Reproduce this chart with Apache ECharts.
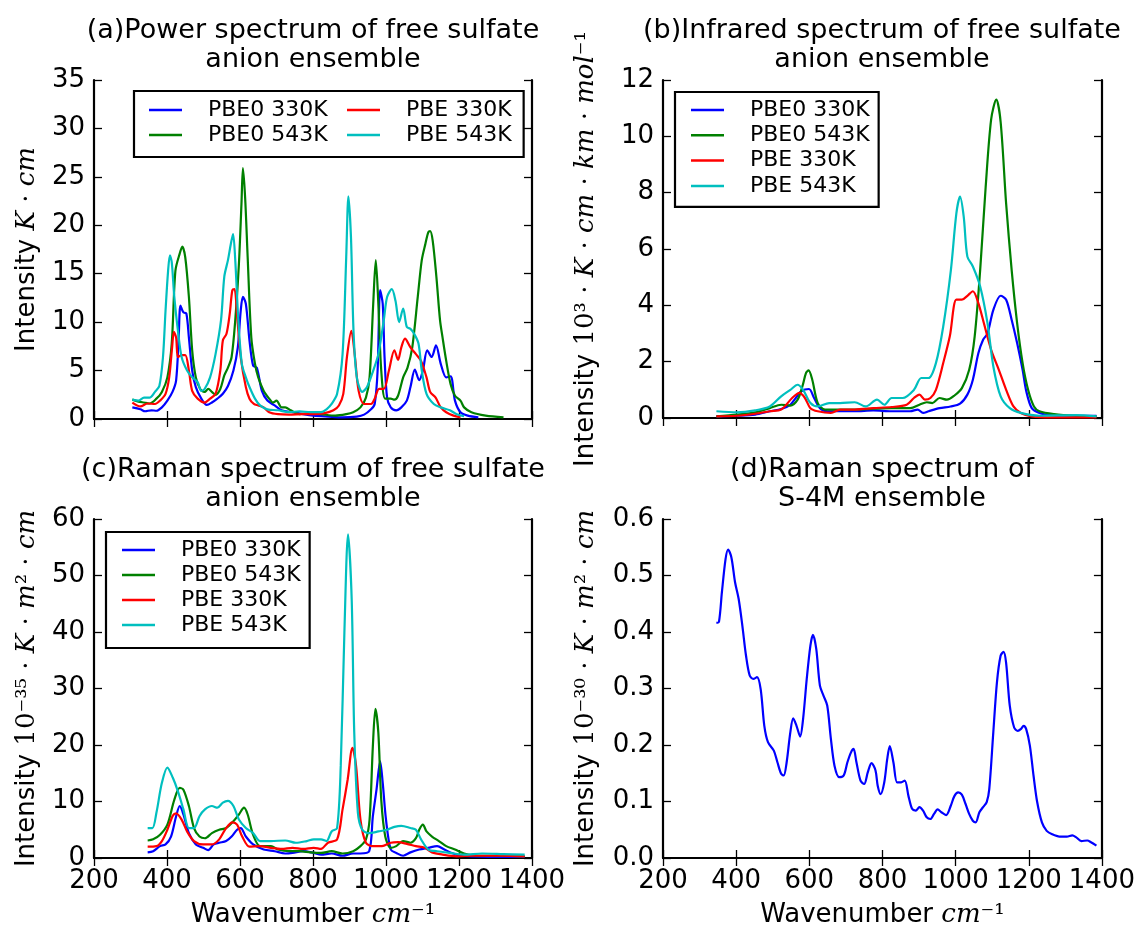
<!DOCTYPE html>
<html>
<head>
<meta charset="utf-8">
<title>Sulfate anion spectra</title>
<script src="https://cdn.jsdelivr.net/npm/echarts@6/dist/echarts.min.js"></script>
<style>
  body { margin: 0; background: #fff; }
  #chart { width: 1138px; height: 929px; }
</style>
</head>
<body>
<div id="chart"></div>
<script>
// Spectra, each point is [wavenumber, intensity]

// (a) power spectrum
const a_pbe0_330 = [[305,1.2],[327,1.0],[340,0.8],[357,0.9],[371,0.85],[386,1.2],[401,1.9],[415,2.8],[425,4.0],[432,8.4],[437,11.7],[445,11.0],[453,10.9],[460,8.4],[469,5.0],[479,3.3],[494,2.1],[509,1.45],[523,1.7],[538,2.1],[553,2.6],[567,3.4],[582,5.0],[594,7.4],[602,11.2],[608,12.6],[616,11.9],[626,8.1],[636,5.5],[646,5.3],[660,2.9],[675,1.9],[695,1.4],[714,0.9],[744,0.7],[773,0.5],[802,0.35],[842,0.25],[881,0.17],[920,0.25],[940,0.45],[959,1.0],[969,1.55],[977,5.0],[984,13.3],[991,11.9],[996,6.4],[1003,2.2],[1013,1.2],[1028,0.9],[1042,1.2],[1057,1.9],[1067,3.3],[1079,5.1],[1091,4.0],[1101,5.0],[1113,7.1],[1125,6.4],[1137,7.6],[1150,5.7],[1165,4.3],[1177,4.4],[1189,1.9],[1204,0.7],[1224,0.35],[1253,0.17]];
const a_pbe0_543 = [[305,2.0],[322,1.8],[337,1.7],[352,1.6],[371,2.1],[386,2.8],[401,4.3],[413,7.8],[423,15.3],[435,17.1],[442,17.8],[450,16.7],[460,12.6],[469,7.1],[479,4.3],[491,3.1],[503,2.8],[513,3.1],[523,2.8],[533,2.5],[546,3.1],[557,4.5],[567,5.3],[577,6.4],[587,10.2],[597,16.0],[604,22.2],[608,25.9],[614,22.9],[621,16.7],[631,8.4],[641,5.7],[650,4.3],[665,2.9],[680,2.1],[690,1.7],[700,1.9],[714,1.2],[724,1.2],[739,0.9],[763,0.5],[793,0.6],[822,0.5],[861,0.35],[891,0.5],[910,0.7],[930,1.2],[945,2.2],[955,4.3],[965,11.9],[972,16.4],[979,11.9],[987,5.0],[998,2.1],[1013,2.1],[1023,2.0],[1033,2.4],[1047,4.3],[1059,5.3],[1072,7.4],[1087,12.6],[1098,16.4],[1108,18.1],[1116,19.3],[1121,19.4],[1128,18.4],[1138,14.7],[1148,10.2],[1155,8.4],[1165,6.0],[1177,3.6],[1189,2.4],[1204,1.9],[1214,1.2],[1234,0.7],[1273,0.35],[1322,0.17]];
const a_pbe_330 = [[305,1.7],[327,1.3],[347,1.6],[367,1.55],[381,1.9],[396,2.6],[406,4.3],[414,7.4],[419,9.0],[425,8.4],[430,6.4],[440,6.6],[450,6.6],[460,5.0],[469,2.9],[484,2.1],[503,1.7],[518,2.1],[533,2.6],[546,5.0],[553,8.1],[563,8.8],[572,10.9],[579,13.3],[585,13.4],[592,10.7],[602,6.4],[616,3.3],[626,2.1],[638,1.55],[650,1.4],[665,1.2],[680,0.7],[704,0.5],[734,0.45],[773,0.5],[802,0.5],[832,0.6],[856,0.9],[871,1.4],[883,2.6],[893,6.4],[905,9.1],[915,6.4],[925,2.9],[940,1.55],[959,1.55],[969,2.1],[981,3.1],[994,3.1],[1008,5.0],[1023,7.1],[1033,6.1],[1042,7.4],[1052,8.3],[1067,7.4],[1082,6.7],[1096,6.0],[1111,4.3],[1121,2.8],[1136,2.2],[1150,1.2],[1165,0.7],[1185,0.35],[1204,0.17]];
const a_pbe_543 = [[305,2.0],[322,1.9],[337,2.2],[352,2.2],[367,2.8],[379,3.4],[389,6.4],[396,11.2],[403,15.3],[408,16.9],[413,16.2],[420,12.6],[430,9.1],[440,6.4],[455,5.0],[469,4.3],[484,3.8],[494,2.9],[503,3.1],[518,4.3],[533,6.7],[548,10.2],[557,14.7],[567,16.4],[575,18.1],[581,19.1],[587,16.4],[595,10.5],[605,5.7],[616,4.3],[626,3.3],[641,2.1],[655,1.4],[675,1.0],[704,0.9],[734,0.7],[763,0.8],[793,0.7],[822,0.7],[837,1.0],[851,1.55],[866,2.6],[881,6.7],[891,16.7],[897,23.0],[904,18.8],[911,9.1],[920,4.3],[935,2.8],[948,3.3],[965,5.0],[979,6.7],[994,10.2],[1003,12.6],[1016,13.4],[1026,12.2],[1036,10.0],[1047,11.4],[1057,9.5],[1067,9.3],[1077,8.8],[1089,7.8],[1098,5.0],[1111,2.6],[1131,1.55],[1150,1.2],[1175,0.9],[1194,0.5],[1214,0.3]];

// (b) infrared spectrum
const b_pbe0_330 = [[346,0.06],[402,0.08],[452,0.12],[492,0.24],[523,0.32],[548,0.47],[563,0.71],[578,0.95],[599,1.03],[613,0.71],[629,0.35],[649,0.24],[684,0.24],[724,0.24],[775,0.27],[825,0.24],[876,0.24],[896,0.3],[911,0.18],[926,0.24],[956,0.35],[986,0.41],[1012,0.51],[1032,0.83],[1047,1.36],[1062,2.3],[1075,2.78],[1087,3.0],[1103,3.84],[1123,4.34],[1138,4.2],[1153,3.49],[1168,2.66],[1183,1.71],[1193,0.95],[1208,0.35],[1229,0.18],[1259,0.1],[1309,0.08],[1385,0.08]];
const b_pbe0_543 = [[346,0.06],[402,0.12],[452,0.2],[492,0.35],[523,0.47],[548,0.44],[568,0.65],[581,1.12],[591,1.6],[598,1.69],[608,1.36],[623,0.53],[643,0.3],[684,0.3],[724,0.3],[775,0.33],[825,0.35],[876,0.35],[901,0.47],[921,0.56],[936,0.53],[956,0.71],[976,0.65],[996,0.79],[1017,1.06],[1037,1.71],[1052,2.9],[1067,5.26],[1082,8.2],[1097,10.6],[1111,11.3],[1123,10.5],[1138,7.6],[1153,5.26],[1168,3.37],[1183,1.95],[1198,1.0],[1214,0.41],[1229,0.24],[1269,0.14],[1329,0.08],[1385,0.06]];
const b_pbe_330 = [[346,0.06],[402,0.08],[452,0.15],[492,0.24],[523,0.3],[553,0.71],[573,0.89],[588,0.71],[603,0.35],[623,0.24],[659,0.18],[684,0.3],[724,0.3],[775,0.35],[825,0.39],[866,0.47],[886,0.71],[901,0.83],[916,0.65],[931,0.71],[946,1.0],[966,1.95],[984,2.9],[1002,4.2],[1017,4.2],[1032,4.34],[1047,4.5],[1062,4.08],[1077,3.37],[1097,2.42],[1118,1.71],[1138,1.0],[1158,0.41],[1178,0.18],[1208,0.06],[1259,0.02],[1385,0.02]];
const b_pbe_543 = [[346,0.24],[402,0.2],[452,0.27],[492,0.41],[523,0.77],[548,1.0],[568,1.18],[583,1.0],[603,0.53],[623,0.41],[654,0.53],[684,0.53],[724,0.56],[754,0.41],[785,0.65],[805,0.47],[825,0.71],[855,0.71],[886,1.0],[906,1.42],[926,1.42],[946,1.95],[966,3.25],[987,5.26],[1002,7.27],[1012,7.86],[1022,7.15],[1032,5.73],[1047,5.38],[1067,4.67],[1087,3.37],[1103,1.83],[1123,0.77],[1148,0.35],[1178,0.18],[1229,0.08],[1329,0.1],[1385,0.06]];

// (c) Raman spectrum, free anion
const c_pbe0_330 = [[347,1.0],[362,1.2],[381,2.1],[396,2.4],[411,3.8],[425,7.4],[435,9.2],[445,7.7],[460,4.4],[479,2.4],[499,1.8],[513,1.4],[528,2.4],[543,2.7],[562,3.0],[577,3.8],[592,5.0],[602,5.3],[616,3.8],[636,2.4],[665,1.5],[695,1.2],[724,0.8],[744,0.9],[773,1.2],[802,0.9],[822,0.6],[851,0.8],[881,0.4],[910,0.8],[930,0.8],[954,1.2],[964,7.4],[974,12.1],[984,17.1],[991,13.3],[1000,6.8],[1013,1.5],[1028,0.9],[1047,0.4],[1067,1.0],[1091,1.5],[1116,1.8],[1140,2.1],[1160,1.5],[1180,0.9],[1204,0.4],[1233,0.3],[1312,0.2],[1380,0.2]];
const c_pbe0_543 = [[347,3.1],[362,3.3],[381,4.1],[401,5.9],[420,10.3],[435,12.4],[445,12.1],[460,9.2],[474,5.3],[489,3.8],[504,3.5],[523,4.4],[543,5.0],[562,5.3],[582,6.5],[597,7.7],[611,8.9],[621,7.7],[636,4.1],[655,2.1],[685,2.1],[704,1.5],[734,1.2],[763,1.2],[793,1.0],[822,0.9],[851,1.2],[881,0.8],[910,1.2],[930,2.1],[945,3.3],[955,6.8],[964,19.8],[971,26.4],[979,22.2],[987,10.3],[998,3.8],[1013,1.8],[1028,2.1],[1047,3.0],[1067,2.7],[1082,3.5],[1091,5.0],[1101,5.9],[1111,4.7],[1126,3.8],[1145,3.0],[1165,2.1],[1189,1.5],[1214,0.8],[1253,0.4],[1312,0.4],[1380,0.3]];
const c_pbe_330 = [[347,2.0],[371,2.1],[386,3.0],[401,5.0],[416,7.5],[425,7.9],[440,6.8],[455,4.7],[474,3.0],[499,2.4],[523,2.4],[543,3.3],[562,5.3],[579,6.3],[592,5.9],[606,3.8],[626,2.0],[655,2.1],[685,1.8],[714,1.6],[744,1.8],[773,1.6],[802,1.8],[822,1.6],[841,2.7],[866,3.3],[881,8.6],[895,13.9],[908,19.5],[918,16.3],[930,6.8],[945,2.7],[964,2.1],[989,2.1],[1013,2.7],[1033,2.8],[1057,2.5],[1082,2.1],[1106,1.8],[1126,1.0],[1155,0.6],[1194,0.3],[1243,0.4],[1312,0.4],[1380,0.3]];
const c_pbe_543 = [[347,5.3],[360,5.3],[371,8.0],[386,13.3],[401,16.0],[416,14.2],[430,11.8],[445,8.6],[460,5.3],[474,5.3],[489,7.4],[504,8.6],[523,9.2],[538,8.9],[553,9.8],[567,10.1],[582,9.2],[597,6.8],[616,5.3],[636,4.4],[655,3.0],[685,3.0],[724,3.1],[753,2.7],[783,3.0],[802,3.3],[822,3.3],[837,3.0],[851,4.7],[866,5.3],[876,16.3],[886,39.9],[896,57.3],[906,45.8],[913,22.2],[923,8.0],[935,5.0],[954,4.4],[979,4.7],[1003,5.0],[1023,5.5],[1042,5.7],[1067,5.3],[1082,5.0],[1096,3.3],[1116,1.5],[1140,1.2],[1175,0.9],[1214,0.6],[1263,0.8],[1322,0.7],[1380,0.6]];

// (d) Raman spectrum, S-4M
const d_s4m = [[346,0.416],[353,0.418],[361,0.47],[371,0.529],[378,0.546],[387,0.532],[397,0.488],[407,0.458],[417,0.411],[427,0.358],[437,0.323],[447,0.317],[457,0.32],[467,0.299],[477,0.234],[487,0.205],[503,0.19],[513,0.169],[523,0.149],[530,0.146],[538,0.169],[548,0.222],[556,0.247],[565,0.234],[575,0.215],[583,0.246],[593,0.317],[603,0.376],[610,0.395],[619,0.37],[629,0.305],[639,0.287],[649,0.27],[659,0.211],[669,0.163],[682,0.143],[694,0.146],[704,0.169],[714,0.187],[721,0.193],[729,0.169],[740,0.137],[750,0.131],[760,0.152],[770,0.168],[781,0.155],[787,0.128],[795,0.113],[805,0.134],[813,0.175],[820,0.198],[830,0.169],[840,0.134],[851,0.134],[861,0.137],[871,0.11],[881,0.087],[891,0.084],[901,0.09],[911,0.084],[921,0.072],[931,0.069],[941,0.078],[951,0.086],[961,0.081],[974,0.076],[987,0.093],[997,0.11],[1007,0.116],[1017,0.112],[1027,0.096],[1037,0.078],[1047,0.066],[1055,0.063],[1065,0.081],[1075,0.09],[1085,0.099],[1092,0.122],[1103,0.222],[1113,0.311],[1123,0.358],[1131,0.365],[1138,0.346],[1148,0.27],[1160,0.231],[1170,0.225],[1178,0.228],[1186,0.234],[1193,0.228],[1203,0.199],[1213,0.146],[1223,0.099],[1236,0.063],[1249,0.048],[1264,0.042],[1284,0.038],[1304,0.038],[1319,0.04],[1329,0.037],[1344,0.03],[1360,0.031],[1370,0.028],[1385,0.022]];

const names = ['PBE0 330K', 'PBE0 543K', 'PBE 330K', 'PBE 543K'];
const colors = ['#0000ff', '#008000', '#ff0000', '#00bfbf'];

// axis ranges: [min, max, step] for x and every panel's y
const xRange = [200, 1400, 200];
const yRanges = [[0, 35, 5], [0, 12, 2], [0, 60, 10], [0, 0.6, 0.1]];

const titles = [
  '(a)Power spectrum of free sulfate\nanion ensemble',
  '(b)Infrared spectrum of free sulfate\nanion ensemble',
  '(c)Raman spectrum of free sulfate\nanion ensemble',
  '(d)Raman spectrum of\nS-4M ensemble'
];
const yNames = [
  '{t|Intensity }{m|K}{r| · }{m|cm}',
  '{t|Intensity }{r|10³ · }{m|K}{r| · }{m|cm}{r| · }{m|km}{r| · }{m|mol}{r|⁻¹}',
  '{t|Intensity }{r|10⁻³⁵ · }{m|K}{r| · }{m|m}{r|² · }{m|cm}',
  '{t|Intensity }{r|10⁻³⁰ · }{m|K}{r| · }{m|m}{r|² · }{m|cm}'
];
const xName = '{t|Wavenumber }{m|cm}{r|⁻¹}';

const grids = [
  {left: 94, top: 80, width: 438, height: 339},
  {left: 663, top: 80, width: 439, height: 338},
  {left: 94, top: 519, width: 438, height: 339},
  {left: 663, top: 519, width: 439, height: 339}
];

const FONT = 'DejaVu Sans';
const richStyle = {
  t: {fontSize: 26, fontFamily: FONT, color: '#000'},
  m: {fontSize: 26, fontFamily: 'DejaVu Serif', fontStyle: 'italic', color: '#000'},
  r: {fontSize: 26, fontFamily: 'DejaVu Serif', color: '#000'}
};

var xAxes = [];
var yAxes = [];

//Making the four framed boxes, ticks inside on every side
for (var i = 0; i < 4; i++) {
  let bottomRow = i >= 2;
  let leftCol = i % 2 == 0;
  let yr = yRanges[i];
  let digits = i == 3 ? 1 : 0;
  let frame = {show: true, lineStyle: {color: '#000', width: 2.2}};
  let tick = {show: true, inside: true, length: 8, lineStyle: {color: '#000', width: 1.3}};

  xAxes.push({
    type: 'value', gridIndex: i, position: 'bottom',
    min: xRange[0], max: xRange[1], interval: xRange[2],
    axisLine: frame, axisTick: tick, splitLine: {show: false},
    axisLabel: {
      show: bottomRow, fontSize: 26, fontFamily: FONT, color: '#000', margin: 10,
      formatter: function (v) { return String(v); }
    },
    name: bottomRow ? xName : '', nameLocation: 'middle', nameGap: 44,
    nameTextStyle: {rich: richStyle}
  });
  xAxes.push({
    type: 'value', gridIndex: i, position: 'top',
    min: xRange[0], max: xRange[1], interval: xRange[2],
    axisLine: frame, axisTick: tick, splitLine: {show: false},
    axisLabel: {show: false}
  });
  yAxes.push({
    type: 'value', gridIndex: i, position: 'left',
    min: yr[0], max: yr[1], interval: yr[2],
    axisLine: frame, axisTick: tick, splitLine: {show: false},
    axisLabel: {
      fontSize: 26, fontFamily: FONT, color: '#000', margin: 9,
      formatter: function (v) { return v.toFixed(digits); }
    },
    name: yNames[i], nameLocation: 'middle', nameGap: leftCol ? 54 : 64,
    nameTextStyle: {rich: richStyle}
  });
  yAxes.push({
    type: 'value', gridIndex: i, position: 'right',
    min: yr[0], max: yr[1], interval: yr[2],
    axisLine: frame, axisTick: tick, splitLine: {show: false},
    axisLabel: {show: false}
  });
}

const panelData = [
  [a_pbe0_330, a_pbe0_543, a_pbe_330, a_pbe_543],
  [b_pbe0_330, b_pbe0_543, b_pbe_330, b_pbe_543],
  [c_pbe0_330, c_pbe0_543, c_pbe_330, c_pbe_543],
  [d_s4m]
];

var series = [];
for (var p = 0; p < panelData.length; p++) {
  for (var k = 0; k < panelData[p].length; k++) {
    series.push({
      name: p == 3 ? 'S-4M' : names[k],
      type: 'line',
      xAxisIndex: p * 2,
      yAxisIndex: p * 2,
      data: panelData[p][k],
      showSymbol: false,
      smooth: 0.3,
      color: colors[k],
      lineStyle: {width: 2.2, color: colors[k]},
      z: 2 + k
    });
  }
}

//Legends, panel (a) has two columns
const legendText = {fontSize: 22, fontFamily: FONT, color: '#000', lineHeight: 22};
function legendBox(extra) {
  return Object.assign({
    orient: 'vertical', icon: 'rect', itemWidth: 33, itemHeight: 2.5, itemGap: 3,
    selectedMode: false, textStyle: legendText,
    formatter: function (n) { return '   ' + n; }
  }, extra);
}
var legends = [
  legendBox({left: 134, top: 91, data: [names[0], names[1]], padding: [8, 196, 11, 15],
    borderColor: '#000', borderWidth: 2.2, backgroundColor: '#fff'}),
  legendBox({left: 347, top: 99, data: [names[2], names[3]], padding: 0}),
  legendBox({left: 675, top: 92, data: names, itemGap: 3.3, padding: [7, 9, 10, 16],
    borderColor: '#000', borderWidth: 2.2, backgroundColor: '#fff'}),
  legendBox({left: 106, top: 532, data: names, padding: [7, 9, 12, 16],
    borderColor: '#000', borderWidth: 2.2, backgroundColor: '#fff'})
];

//Titles over each panel
const titleX = [313, 882, 313, 882];
const titleY = [16, 16, 455, 455];
var graphics = [];
for (var t = 0; t < 4; t++) {
  graphics.push({
    type: 'text', x: titleX[t], y: titleY[t],
    style: {
      text: titles[t], fontSize: 27, fontFamily: FONT, fill: '#000',
      align: 'center', verticalAlign: 'top', lineHeight: 29
    }
  });
}

var chart = echarts.init(document.getElementById('chart'));
chart.setOption({
  animation: false,
  backgroundColor: '#fff',
  grid: grids,
  xAxis: xAxes,
  yAxis: yAxes,
  legend: legends,
  graphic: graphics,
  series: series
});
</script>
</body>
</html>
